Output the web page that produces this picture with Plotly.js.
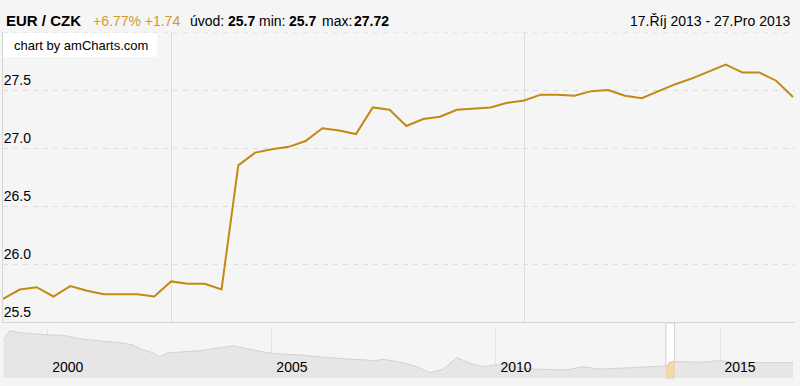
<!DOCTYPE html>
<html>
<head>
<meta charset="utf-8">
<script src="https://cdn.plot.ly/plotly-3.0.1.min.js"></script>
<style>html,body{margin:0;padding:0;background:#f5f5f5;}#chart{width:800px;height:386px;}</style>
</head>
<body>
<div id="chart"></div>
<script>
// ---- data ----
const pairLabel = 'EUR / CZK';
const dates = [
  '2013-10-17','2013-10-18','2013-10-21','2013-10-22','2013-10-23','2013-10-24','2013-10-25','2013-10-29','2013-10-30','2013-10-31',
  '2013-11-01','2013-11-04','2013-11-05','2013-11-06','2013-11-07','2013-11-08','2013-11-11','2013-11-12','2013-11-13','2013-11-14',
  '2013-11-15','2013-11-18','2013-11-19','2013-11-20','2013-11-21','2013-11-22','2013-11-25','2013-11-26','2013-11-27','2013-11-28',
  '2013-11-29','2013-12-02','2013-12-03','2013-12-04','2013-12-05','2013-12-06','2013-12-09','2013-12-10','2013-12-11','2013-12-12',
  '2013-12-13','2013-12-16','2013-12-17','2013-12-18','2013-12-19','2013-12-20','2013-12-23','2013-12-27'
];
const rates = [
  25.70,25.78,25.80,25.72,25.81,25.77,25.74,25.74,25.74,25.72,
  25.85,25.83,25.83,25.78,26.85,26.96,26.99,27.01,27.06,27.17,
  27.15,27.12,27.35,27.33,27.19,27.25,27.27,27.33,27.34,27.35,
  27.39,27.41,27.46,27.46,27.45,27.49,27.50,27.45,27.43,27.49,
  27.55,27.60,27.66,27.72,27.65,27.65,27.58,27.44
];
const yTickVals = [25.5, 26.0, 26.5, 27.0, 27.5, 28.0];
const yTickText = ['25.5', '26.0', '26.5', '27.0', '27.5', ''];
const monthGridDates = ['2013-11-01', '2013-12-02'];

// long-term history shown in the scrollbar
const ltDates = [
  '1999-01-04','1999-02-25','1999-05-17','1999-08-30','2000-01-17','2000-05-02','2000-09-17','2001-02-28','2001-08-10','2001-11-24',
  '2002-02-14','2002-05-06','2002-07-02','2002-08-28','2003-01-05','2003-05-23','2003-10-09','2004-02-17','2004-07-05','2004-11-21',
  '2005-03-31','2005-08-16','2006-01-02','2006-05-12','2006-09-27','2007-02-13','2007-04-20','2007-06-24','2007-10-16','2007-12-04',
  '2008-03-28','2008-07-11','2008-10-26','2009-02-17','2009-06-03','2009-09-16','2010-01-08','2010-03-15','2010-07-15','2010-12-01',
  '2011-08-02','2011-12-09','2012-04-27','2013-01-22','2013-10-01','2014-01-15','2014-07-19','2015-01-01','2015-04-16','2016-01-19',
  '2016-08-18'
];
const ltRates = [
  36.1,39.8,39.0,38.5,38.1,38.0,36.6,35.7,35.0,34.1,
  32.1,31.0,29.4,30.9,31.4,31.8,32.8,33.7,32.4,31.0,
  30.4,30.1,29.4,28.8,28.4,28.1,27.7,28.4,27.4,27.0,
  25.4,23.0,24.4,29.0,26.8,25.4,26.1,26.5,24.9,24.4,
  24.1,25.4,24.4,25.0,25.4,27.4,27.2,27.8,27.2,27.0,
  27.0
];
const yearTicks = ['2000-01-01', '2005-01-01', '2010-01-01', '2015-01-01'];
const yearLabels = ['2000', '2005', '2010', '2015'];
const czMonths = ['Led','Úno','Bře','Dub','Kvě','Čvn','Čvc','Srp','Zář','Říj','Lis','Pro'];

// ---- styles ----
const FONT = 'Liberation Sans, Arial, Helvetica, sans-serif';
const LINE = '#c28a14';
const ACCENT = '#d19b30';
const W = 800, H = 386, ML = 3, MR = 5, MT = 32, MB = 8;
const plotH = H - MT - MB;
const py = px => (H - MB - px) / plotH;       // pixel y -> paper y
const pxX = px => (px - ML) / (W - ML - MR);  // pixel x -> paper x

// ---- derived header values ----
const first = rates[0], last = rates[rates.length - 1];
const minV = Math.min(...rates), maxV = Math.max(...rates);
const diff = last - first, pct = diff / first * 100;
const fmt = v => String(parseFloat(v.toFixed(2)));
const sign = v => (v >= 0 ? '+' : '') + v.toFixed(2);
const czDate = s => { const d = s.split('-'); return parseInt(d[2], 10) + '.' + czMonths[parseInt(d[1], 10) - 1] + ' ' + d[0]; };
const rangeText = czDate(dates[0]) + ' - ' + czDate(dates[dates.length - 1]);

// split long-term history around the selected window
const wStart = dates[0], wEnd = dates[dates.length - 1];
const beforeX = [], beforeY = [], afterX = [], afterY = [];
ltDates.forEach((d, i) => {
  if (d < wStart) { beforeX.push(d); beforeY.push(ltRates[i]); }
  else if (d > wEnd) { afterX.push(d); afterY.push(ltRates[i]); }
});
beforeX.push(wStart); beforeY.push(first);
afterX.unshift(wEnd); afterY.unshift(last);

const traces = [
  { x: dates, y: rates, type: 'scatter', mode: 'lines', xaxis: 'x', yaxis: 'y',
    line: { color: LINE, width: 2 }, hoverinfo: 'skip' },
  { x: beforeX, y: beforeY, type: 'scatter', mode: 'lines', xaxis: 'x2', yaxis: 'y2',
    fill: 'tozeroy', fillcolor: '#e6e6e6', line: { color: '#d2d2d2', width: 1 }, hoverinfo: 'skip' },
  { x: afterX, y: afterY, type: 'scatter', mode: 'lines', xaxis: 'x2', yaxis: 'y2',
    fill: 'tozeroy', fillcolor: '#e6e6e6', line: { color: '#d2d2d2', width: 1 }, hoverinfo: 'skip' },
  { x: dates, y: rates, type: 'scatter', mode: 'lines', xaxis: 'x2', yaxis: 'y2',
    fill: 'tozeroy', fillcolor: 'rgba(238,214,160,0.9)', line: { color: '#e0c890', width: 1 }, hoverinfo: 'skip' }
];

// header pieces: [text, left pixel, bold, colour, size]
const headerPieces = [
  [pairLabel, 4, true, '#000', 15],
  [sign(pct) + '% ' + sign(diff), 91, false, ACCENT, 14],
  ['úvod:', 188, false, '#000', 14],
  [fmt(first), 226, true, '#000', 14],
  ['min:', 257, false, '#000', 14],
  [fmt(minV), 287, true, '#000', 14],
  ['max:', 320, false, '#000', 14],
  [fmt(maxV), 352, true, '#000', 14]
];
const annotations = headerPieces.map(p => ({
  xref: 'paper', yref: 'paper', x: pxX(p[1]), y: py(20.5), xanchor: 'left', yanchor: 'middle',
  text: p[2] ? '<b>' + p[0] + '</b>' : p[0], showarrow: false,
  font: { size: p[4], color: p[3], family: FONT }
}));
annotations.push(
  { xref: 'paper', yref: 'paper', x: pxX(793), y: py(20.5), xanchor: 'right', yanchor: 'middle',
    text: rangeText, showarrow: false, font: { size: 14, color: '#000', family: FONT } },
  { xref: 'paper', yref: 'paper', x: pxX(12), y: py(45), xanchor: 'left', yanchor: 'middle',
    text: 'chart by amCharts.com', showarrow: false, font: { size: 13, color: '#000', family: FONT } }
);

const layout = {
  width: W, height: H,
  margin: { l: ML, r: MR, t: MT, b: MB, pad: 0 },
  paper_bgcolor: '#f5f5f5', plot_bgcolor: '#f5f5f5',
  showlegend: false,
  font: { family: FONT, size: 14, color: '#000' },
  xaxis: {
    type: 'category', domain: [0, 1], anchor: 'y',
    range: [0, 47.12], tickmode: 'array', tickvals: monthGridDates, showticklabels: false,
    ticks: '', showgrid: true, gridcolor: '#dedede', gridwidth: 1,
    showline: true, linecolor: '#d6d6d6', linewidth: 1, zeroline: false, fixedrange: true
  },
  yaxis: {
    domain: [py(322), 1], anchor: 'x',
    range: [25.5, 28.0], tickmode: 'array', tickvals: yTickVals, ticktext: yTickText,
    ticklabelposition: 'inside top', ticks: '', tickfont: { size: 14, color: '#000', family: FONT },
    showgrid: true, gridcolor: '#dcdcdc', griddash: '5px,5px', gridwidth: 1,
    showline: true, linecolor: '#d6d6d6', linewidth: 1, zeroline: false, fixedrange: true
  },
  xaxis2: {
    type: 'date', domain: [0, 1], anchor: 'y2',
    range: ['1999-01-01', '2016-09-03'], tickmode: 'array', tickvals: yearTicks, ticktext: yearLabels,
    ticklabelposition: 'inside', ticklabelshift: 20, ticks: '', tickfont: { size: 14, color: '#000', family: FONT },
    showgrid: true, gridcolor: '#e2e2e2', showline: false, zeroline: false, fixedrange: true
  },
  yaxis2: {
    domain: [0, py(329)], anchor: 'x2', range: [20.88, 40.48],
    showticklabels: false, ticks: '', showgrid: false, zeroline: false, showline: false, fixedrange: true
  },
  shapes: [
    { type: 'rect', xref: 'x2', yref: 'paper', x0: wStart, x1: wEnd, y0: 0, y1: py(323),
      fillcolor: '#ffffff', line: { color: '#cfcfcf', width: 1 }, layer: 'below' },
    { type: 'line', xref: 'paper', yref: 'y', x0: 0, x1: 1, y0: yTickVals[yTickVals.length - 1], y1: yTickVals[yTickVals.length - 1],
      line: { color: '#dcdcdc', width: 1, dash: '5px,5px' }, layer: 'below' },
    { type: 'rect', xref: 'paper', yref: 'paper', x0: pxX(3), x1: pxX(157), y0: py(57), y1: py(33),
      fillcolor: '#ffffff', line: { width: 0 }, layer: 'above' }
  ],
  annotations: annotations
};

Plotly.newPlot('chart', traces, layout, { displayModeBar: false, staticPlot: true });
</script>
</body>
</html>
